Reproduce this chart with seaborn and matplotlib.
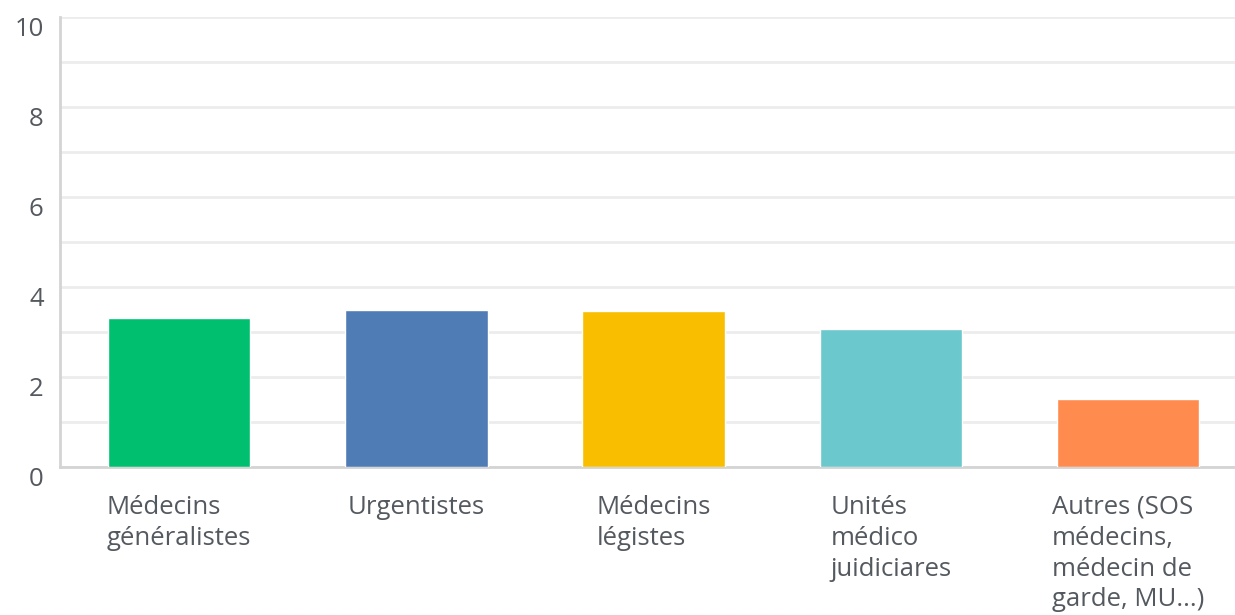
import matplotlib.pyplot as plt
import matplotlib.transforms as mtransforms
import pandas as pd
import seaborn as sns

categories = ['Médecins\ngénéralistes', 'Urgentistes', 'Médecins\nlégistes',
              'Unités\nmédico\njuidiciares', 'Autres (SOS\nmédecins,\nmédecin de\ngarde, MU...)']
values = [3.31, 3.50, 3.47, 3.06, 1.52]
colors = ['#00bf6f', '#507cb6', '#f9be00', '#6bc8cd', '#ff8b4f']
yticks = [0, 2, 4, 6, 8, 10]

df = pd.DataFrame({'cat': categories, 'val': values})

sns.set_style('white')
plt.rcParams['font.family'] = ['Open Sans', 'DejaVu Sans']

fig = plt.figure(figsize=(12.35, 6.15), dpi=100)
# axes runs a little past the right edge, like the original screenshot
ax = fig.add_axes([60.4 / 1235, 148 / 615, 1186.5 / 1235, 450 / 615])

sns.barplot(data=df, x='cat', y='val', hue='cat', palette=colors, legend=False,
            width=0.6, saturation=1, ax=ax, zorder=3)

ax.set_ylim(0, 10)
ax.set_xlim(-0.5, 4.5)
ax.set_axisbelow(True)
ax.set_yticks(yticks)
ax.set_yticks(range(1, 11, 2), minor=True)
ax.yaxis.grid(True, which='both', color='#ececec', linewidth=2)
ax.tick_params(axis='y', which='both', length=0, pad=12, labelsize=18.5, labelcolor='#54595f')
ax.tick_params(axis='x', length=0, pad=20, labelsize=18.5, labelcolor='#54595f')
for lab in ax.get_xticklabels():
    lab.set_ha('center')
    lab.set_va('top')
    lab.set_multialignment('left')
    lab.set_linespacing(1.31)
shift = mtransforms.ScaledTranslation(0, -10 / 100, fig.dpi_scale_trans)
for lab in ax.get_yticklabels():
    lab.set_transform(lab.get_transform() + shift)

ax.set_xlabel('')
ax.set_ylabel('')
for s in ['top', 'right']:
    ax.spines[s].set_visible(False)
ax.spines['left'].set_color('#d4d4d4')
ax.spines['left'].set_linewidth(2)
ax.spines['bottom'].set_color('#d4d4d4')
ax.spines['bottom'].set_linewidth(2)

plt.savefig('out.png', dpi=100)
